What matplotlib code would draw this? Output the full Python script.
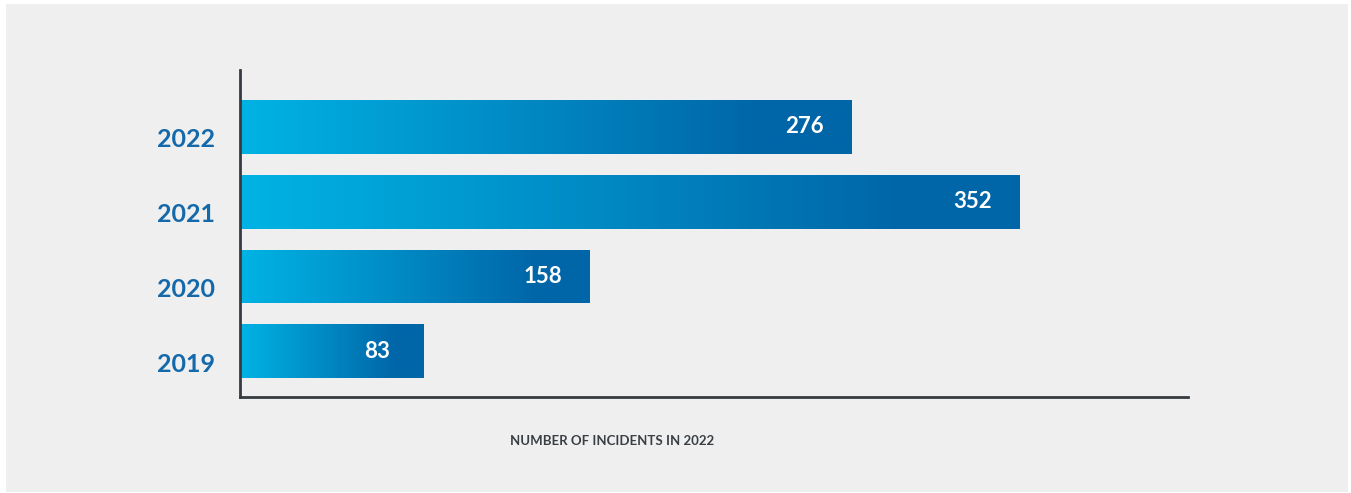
import numpy as np
import matplotlib.pyplot as plt
import matplotlib.transforms as mtransforms
from matplotlib.colors import LinearSegmentedColormap
from matplotlib.patches import Rectangle

years = ['2019', '2020', '2021', '2022']
incidents = [83, 158, 352, 276]
xlabel = 'NUMBER OF INCIDENTS IN 2022'

plt.rcParams['font.family'] = ['Lato', 'DejaVu Sans']

fig = plt.figure(figsize=(13.51, 4.93), dpi=100, facecolor='white')
fig.patches.append(Rectangle((6 / 1351, 1 / 493), 1342 / 1351, 488 / 493,
                             transform=fig.transFigure, facecolor='#efefef',
                             edgecolor='none', zorder=-1))

ax = fig.add_axes([240 / 1351, 1 - 397 / 493, 948 / 1351, 327 / 493])
ax.set_facecolor('none')

ypos = np.arange(len(years))
bars = ax.barh(ypos, incidents, height=0.72, color='none', edgecolor='none')
ax.set_xlim(0, 428)
ax.set_ylim(-0.61, 3.76)

# gradient fill, cyan -> dark blue along each bar
cmap = LinearSegmentedColormap.from_list('blues', [(0, '#00b3e4'), (0.85, '#0066a8'), (1, '#0066a8')])
grad = np.linspace(0, 1, 256).reshape(1, -1)
for b in bars:
    x0, y0, w, h = b.get_x(), b.get_y(), b.get_width(), b.get_height()
    im = ax.imshow(grad, cmap=cmap, aspect='auto', extent=(x0, x0 + w, y0, y0 + h),
                   interpolation='bicubic', zorder=2)
    im.set_clip_path(b)

for y, v in zip(ypos, incidents):
    ax.annotate(str(v), (v, y), xytext=(-34, 0), textcoords='offset points',
                ha='center', va='center', color='white', fontsize=16,
                fontweight='bold', zorder=3)

ax.set_yticks(ypos)
ax.set_yticklabels(years, fontsize=18, fontweight='bold', color='#1469ab')
ax.tick_params(axis='y', length=0, pad=18)
offset = mtransforms.ScaledTranslation(0, -11 / 100, fig.dpi_scale_trans)
for lab in ax.get_yticklabels():
    lab.set_transform(lab.get_transform() + offset)
ax.set_xticks([])

for s in ['top', 'right']:
    ax.spines[s].set_visible(False)
for s in ['left', 'bottom']:
    ax.spines[s].set_color('#353b40')
    ax.spines[s].set_linewidth(2)

fig.text(612 / 1351, 1 - 441 / 493, xlabel, ha='center', va='center',
         fontsize=9.5, fontweight='bold', color='#3a3f44')

plt.savefig('out.png', dpi=100, facecolor=fig.get_facecolor())
